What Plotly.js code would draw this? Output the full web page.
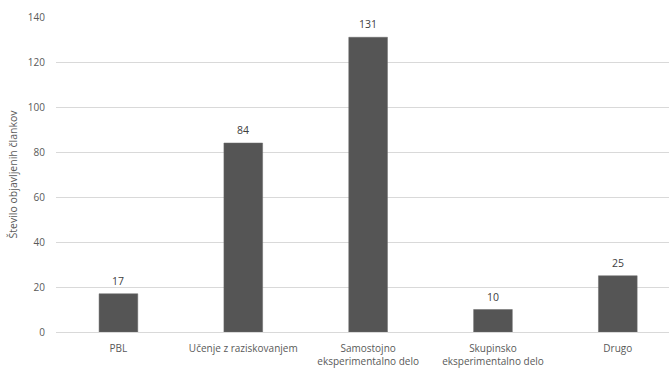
<!DOCTYPE html>
<html>
<head>
<meta charset="utf-8">
<script src="https://cdn.plot.ly/plotly-3.0.1.min.js"></script>
<style>
  html, body { margin: 0; padding: 0; background: #fff; overflow: hidden; }
  #chart { width: 669px; height: 368px; }
</style>
</head>
<body>
<div id="chart"></div>
<script>
// Article counts per teaching approach
const categories = [
  'PBL',
  'Učenje z raziskovanjem',
  'Samostojno<br>eksperimentalno delo',
  'Skupinsko<br>eksperimentalno delo',
  'Drugo'
];
const counts = [17, 84, 131, 10, 25];
const yTicks = [0, 20, 40, 60, 80, 100, 120, 140];

const font = 'Open Sans, Noto Sans, sans-serif';

const trace = {
  type: 'bar',
  x: categories,
  y: counts,
  marker: { color: '#555555', line: { color: '#6a6a6a', width: 0.5 } },
  hoverinfo: 'skip'
};

// value labels sitting a little above each bar
const valueLabels = categories.map((c, i) => ({
  x: c,
  y: counts[i],
  xref: 'x',
  yref: 'y',
  text: String(counts[i]),
  showarrow: false,
  yanchor: 'bottom',
  yshift: 4,
  font: { family: font, size: 10.5, color: '#404040' }
}));

const layout = {
  width: 669,
  height: 368,
  margin: { l: 56, r: 0, t: 17, b: 36 },
  paper_bgcolor: '#ffffff',
  plot_bgcolor: '#ffffff',
  bargap: 0.69,
  showlegend: false,
  font: { family: font, size: 10, color: '#595959' },
  annotations: valueLabels,
  xaxis: {
    type: 'category',
    range: [-0.5, 4.41],
    showgrid: false,
    showline: false,
    zeroline: false,
    ticks: '',
    ticklabelstandoff: 9,
    tickfont: { family: font, size: 10, color: '#595959' }
  },
  yaxis: {
    range: [0, 140],
    tickvals: yTicks,
    ticktext: yTicks.map(String),
    showgrid: true,
    gridcolor: '#d9d9d9',
    gridwidth: 1,
    zeroline: true,
    zerolinecolor: '#d9d9d9',
    zerolinewidth: 1,
    showline: false,
    ticks: '',
    ticklabelstandoff: 10,
    tickfont: { family: font, size: 10, color: '#595959' },
    title: {
      text: 'Število objavljenih člankov',
      font: { family: font, size: 10.5, color: '#595959' },
      standoff: 8
    }
  }
};

Plotly.newPlot('chart', [trace], layout, { displayModeBar: false, staticPlot: true });
</script>
</body>
</html>
